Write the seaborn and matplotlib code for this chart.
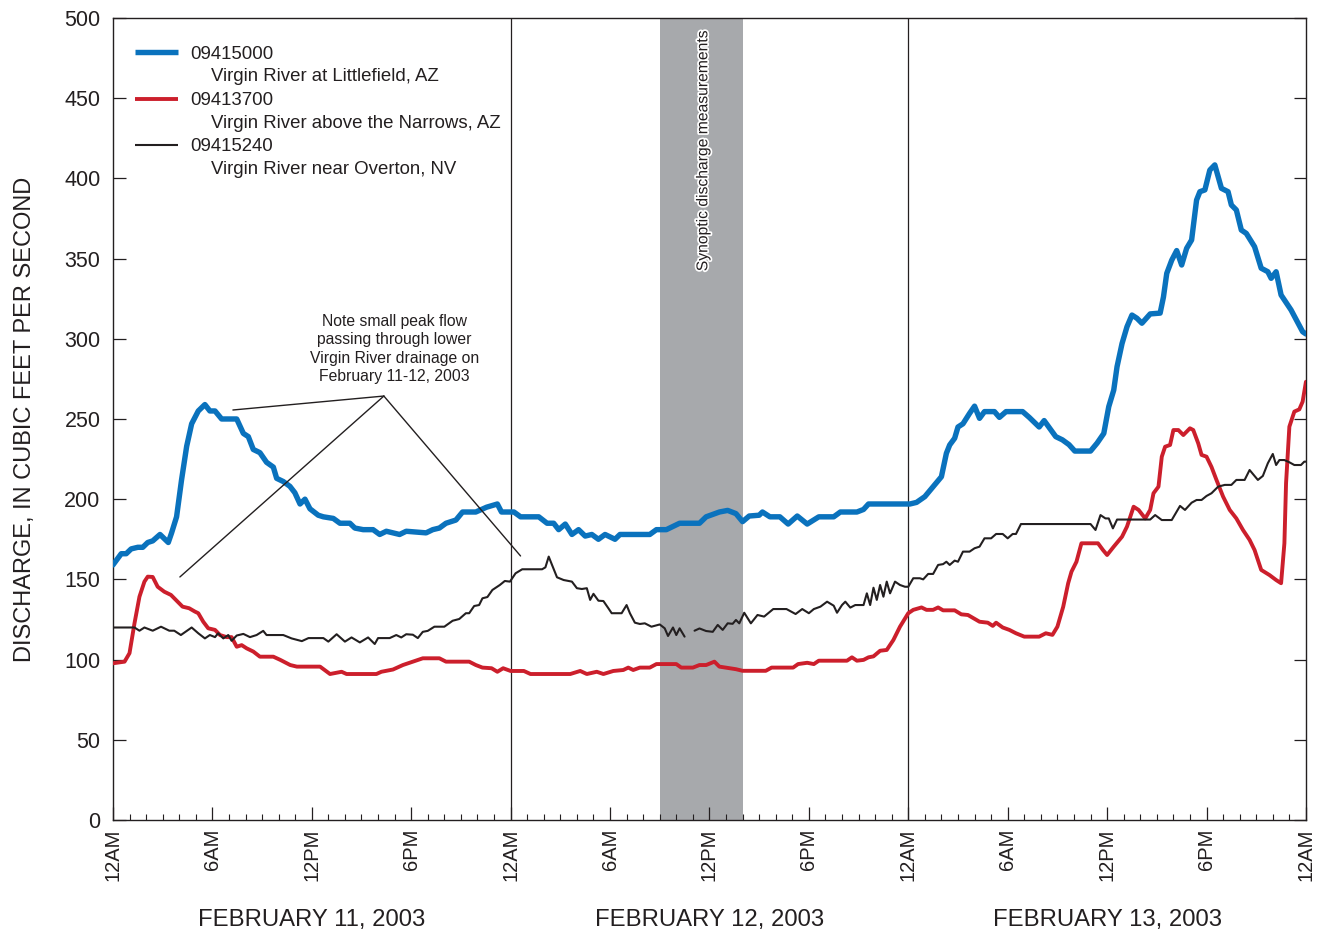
import numpy as np
import pandas as pd
import matplotlib
matplotlib.use("Agg")
import matplotlib.pyplot as plt
import matplotlib.patheffects as pe
from matplotlib.ticker import MultipleLocator
import seaborn as sns

# ---- Discharge records (hours from 12AM Feb 11, 2003; cubic feet per second) ----
littlefield_hours = [0, 0.5, 0.8, 1.1, 1.5, 1.8, 2.1, 2.4, 2.84, 3.04, 3.34, 3.54, 3.84, 4.14, 4.45, 4.75,
                     5.15, 5.55, 5.85, 6.16, 6.56, 7.47, 7.87, 8.17, 8.47, 8.87, 9.27, 9.68, 9.88, 10.28,
                     10.68, 10.98, 11.29, 11.59, 11.89, 12.39, 12.7, 13.3, 13.7, 14.3, 14.6, 15.1, 15.7,
                     16.1, 16.5, 17.3, 17.7, 18.9, 19.3, 19.7, 20.1, 20.7, 21.1, 21.9, 22.55, 23.2, 23.45,
                     24.2, 24.6, 25.7, 26.2, 26.6, 26.9, 27.3, 27.7, 28.1, 28.5, 28.9, 29.3, 29.7, 30.3,
                     30.6, 32.4, 32.8, 33.4, 34.2, 35.4, 35.8, 36.6, 37.1, 37.6, 38.0, 38.4, 39.0, 39.2,
                     39.65, 40.25, 40.75, 41.3, 41.9, 42.6, 43.5, 43.9, 44.9, 45.3, 45.6, 47.9, 48.1, 48.5,
                     49.0, 49.5, 50.0, 50.3, 50.5, 50.8, 51.0, 51.3, 51.7, 52.0, 52.3, 52.6, 53.2, 53.5,
                     53.9, 54.9, 55.3, 55.9, 56.2, 56.9, 57.3, 57.7, 58.05, 59.0, 59.4, 59.8, 60.1, 60.4,
                     60.6, 60.9, 61.2, 61.5, 61.8, 62.1, 62.6, 63.2, 63.4, 63.6, 63.9, 64.2, 64.5, 64.8,
                     65.1, 65.4, 65.6, 65.9, 66.2, 66.5, 66.7, 66.9, 67.3, 67.5, 67.8, 68.1, 68.4, 68.9,
                     69.3, 69.7, 69.9, 70.2, 70.5, 71.1, 71.8, 72.0]
littlefield_cfs = [159, 166, 166, 169, 170, 170, 173, 174, 178, 176, 173, 179, 189, 212, 233, 247,
                   255, 259, 255, 255, 250, 250, 241, 239, 231, 229, 223, 220, 213, 211,
                   208, 204, 197, 200, 194, 190, 189, 188, 185, 185, 182, 181, 181,
                   178, 180, 178, 180, 179, 181, 182, 185, 187, 192, 192, 195, 197, 192,
                   192, 189, 189, 185, 185, 181, 184.5, 178, 181, 177, 178, 175, 178, 175,
                   178, 178, 181, 181, 185, 185, 189, 192, 193, 191, 186, 189.5, 190, 192,
                   189, 189, 184.5, 189.5, 184.5, 189, 189, 192, 192, 193.6, 197, 197, 197, 198,
                   201.6, 207.8, 214, 228.6, 233.8, 238, 245, 247, 253.5, 258, 250.4, 254.6, 254.6, 251,
                   254.6, 254.6, 251, 245, 249, 239, 237, 234, 230, 230, 235, 241, 257.7, 268,
                   282.6, 297, 307.5, 314.8, 312.8, 309.7, 315.5, 316, 326, 340.8, 349, 355, 346, 356.4,
                   361.6, 386.5, 391.7, 392.8, 405.2, 408.4, 401, 393.8, 391.7, 383.4, 380.3, 367.8, 365.7, 357.4,
                   344, 341.8, 337.7, 341.8, 327.3, 318, 304.4, 303]

narrows_hours = [0, 0.7, 1.0, 1.3, 1.6, 1.9, 2.1, 2.4, 2.7, 3.1, 3.5, 3.8, 4.2, 4.6, 4.95, 5.15, 5.45,
                 5.75, 6.16, 6.46, 6.86, 7.16, 7.47, 7.77, 8.07, 8.47, 8.87, 9.68, 10.1, 10.7, 11.1,
                 12.5, 13.1, 13.8, 14.1, 15.9, 16.2, 16.9, 17.5, 18.1, 18.7, 19.7, 20.1, 21.5, 21.9,
                 22.3, 22.85, 23.2, 23.55, 24.0, 24.8, 25.2, 27.6, 28.2, 28.6, 29.2, 29.6, 30.2, 30.8,
                 31.1, 31.4, 31.8, 32.4, 32.8, 34.0, 34.3, 35.0, 35.4, 35.8, 36.3, 36.6, 37.2, 37.6,
                 38.0, 39.4, 39.75, 41.05, 41.35, 41.9, 42.3, 42.6, 44.3, 44.6, 44.9, 45.3, 45.6, 45.9,
                 46.3, 46.7, 47.1, 47.5, 48.0, 48.3, 48.8, 49.1, 49.5, 49.8, 50.1, 50.8, 51.2, 51.6,
                 52.3, 52.8, 53.1, 53.3, 53.7, 54.1, 54.5, 55.0, 55.9, 56.3, 56.7, 57.0, 57.35, 57.65,
                 57.85, 58.15, 58.45, 59.45, 59.75, 60.0, 60.4, 60.9, 61.2, 61.6, 61.9, 62.3, 62.6,
                 62.8, 63.1, 63.3, 63.5, 63.8, 64.0, 64.3, 64.6, 65.0, 65.2, 65.5, 65.7, 66.0, 66.3,
                 66.6, 67.0, 67.4, 67.8, 68.2, 68.6, 68.9, 69.3, 69.8, 70.2, 70.5, 70.7, 70.8, 71.0,
                 71.3, 71.6, 71.8, 72.0]
narrows_cfs = [97.7, 98.7, 104, 122.6, 139.2, 148.6, 151.7, 151.5, 145.4, 142.3, 140.3, 137.2, 133, 132,
               129.9, 128.9, 123.6, 119.5, 118.5, 115.3, 114, 114, 108, 109, 107, 105, 101.8, 101.8, 99.8,
               96.6, 95.6, 95.6, 91, 92.4, 91, 91, 92.4, 93.8, 96.6, 98.7, 100.8, 100.8, 98.7, 98.7, 96.6,
               95, 94.6, 92.4, 94.6, 92.9, 92.9, 91, 91, 92.9, 91, 92.4, 91, 92.9, 93.5,
               95, 93.5, 95, 95, 97.2, 97.2, 95, 95, 96.6, 96.6, 98.7, 95.6, 94.6, 94,
               93, 93, 95, 95, 97.2, 98, 97.2, 99.3, 99.3, 101.4, 99.3, 99.8, 101.4, 102,
               105.5, 106, 112.2, 120.5, 128.9, 131, 132.5, 131, 131, 132.5, 130.7, 130.7, 128.2, 127.8,
               123.6, 123, 121, 123, 120, 118.5, 116.4, 114.3, 114.3, 116.4, 115.4, 120.5, 132.9, 147.6,
               154.8, 161, 172.5, 172.5, 168.3, 165.2, 170.4, 176.6, 182.9, 195.3, 193.3, 188, 193.3,
               203.7, 207.8, 226.5, 232.7, 233.8, 243.1, 243.1, 240, 244.2, 243.1, 234.8, 227.6, 226.5, 220.1,
               212, 201.6, 193.3, 188, 180.8, 174.6, 168.3, 155.9, 152.7, 149.6, 147.6, 172.5, 210, 245.2,
               254.6, 256, 260.8, 273.2]

# Overton gage record has a short gap around noon on Feb 12
overton_hours_a = [0, 1.3, 1.6, 1.9, 2.4, 2.9, 3.4, 3.7, 4.1, 4.75, 5.15, 5.55, 5.85, 6.16, 6.35, 6.66,
                   6.96, 7.16, 7.47, 7.87, 8.27, 8.67, 9.07, 9.27, 10.28, 10.78, 11.4, 11.8, 12.7, 13.0,
                   13.5, 14.0, 14.4, 14.9, 15.4, 15.8, 16.0, 16.7, 17.1, 17.4, 17.7, 18.1, 18.4, 18.7,
                   19.0, 19.4, 20.0, 20.5, 20.9, 21.3, 21.5, 21.8, 22.1, 22.3, 22.6, 22.9, 23.35, 23.65,
                   23.96, 24.3, 24.7, 25.9, 26.1, 26.3, 26.5, 26.8, 27.2, 27.7, 28.0, 28.3, 28.6, 28.8,
                   29.0, 29.3, 29.6, 29.9, 30.1, 30.7, 31.0, 31.2, 31.5, 31.8, 32.1, 32.5, 33.0, 33.3,
                   33.5, 33.8, 34.0, 34.2, 34.5]
overton_cfs_a = [120, 120, 118, 120, 118, 120.5, 118, 118, 115.3, 120, 116.4, 113.2, 115.3, 114, 116.4, 113.2,
                 115.3, 111.7, 115, 116, 114, 115.3, 117.9, 115.3, 115.3, 113.2, 111.5, 113.4, 113.4, 111.2,
                 115.8, 111.2, 113.8, 110.7, 113.8, 109.7, 113.4, 113.4, 115.3, 113.8, 115.8, 115.5, 113.4, 117.3,
                 117.9, 120.5, 120.5, 124.2, 125.3, 128.9, 128.9, 133.4, 134, 138.2, 139, 143.4, 146.5, 149,
                 148.6, 153.8, 156.3, 156.3, 157.5, 164.2, 159, 151.3, 149.6, 148.6, 144.5, 144, 144.5, 137.2,
                 141, 136.7, 136.5, 132, 128.9, 128.9, 134, 128.9, 123, 122.2, 122.6, 120.5, 121.9, 119.5,
                 114.7, 120, 115.3, 119.5, 114.3]
overton_hours_b = [35.1, 35.4, 35.8, 36.2, 36.5, 36.8, 37.1, 37.4, 37.6, 37.8, 38.1, 38.5, 38.9, 39.3,
                   39.85, 40.65, 41.2, 41.6, 42.0, 42.3, 42.7, 43.1, 43.5, 43.7, 44.0, 44.2, 44.5, 44.8,
                   45.3, 45.5, 45.7, 45.9, 46.1, 46.3, 46.5, 46.7, 46.9, 47.2, 47.5, 47.8, 48.0, 48.3,
                   48.7, 48.9, 49.2, 49.5, 49.8, 50.1, 50.3, 50.5, 50.8, 51.0, 51.3, 51.7, 52.0, 52.3,
                   52.6, 53.0, 53.3, 53.7, 54.0, 54.3, 54.5, 54.8, 59.0, 59.3, 59.6, 59.9, 60.1, 60.35,
                   60.6, 62.6, 62.9, 63.3, 63.9, 64.4, 64.7, 65.1, 65.4, 65.7, 66.0, 66.3, 66.7, 67.1,
                   67.5, 67.8, 68.3, 68.6, 68.8, 69.1, 69.4, 69.7, 70.0, 70.2, 70.4, 70.7, 71.0, 71.3,
                   71.7, 71.9, 72.0]
overton_cfs_b = [118, 119.4, 117.8, 117.3, 121.6, 118.5, 122.6, 122.3, 124.7, 122.6, 129.2, 122.6, 127.8, 126.8,
                 131.5, 131.5, 128.4, 131.5, 128.9, 131.5, 133, 136.1, 133.6, 129.2, 134, 136.1, 132.4, 134,
                 134, 141.3, 134, 144.8, 137.2, 146.5, 139.2, 148.6, 141.3, 148.6, 146.5, 145.4, 145.4, 150.7,
                 150.7, 150, 153.4, 153.4, 159, 159.5, 161, 159, 161.7, 161, 167.3, 167.3, 169.4, 170.4,
                 175.6, 175.6, 178.3, 178.3, 175.6, 178.3, 178.3, 184.5, 184.5, 180.8, 190.1, 188, 188, 181.8,
                 187.3, 187.3, 190.1, 187, 187, 195.8, 193.3, 197.8, 199.5, 199.5, 202, 203.7, 207.8, 208.9,
                 208.9, 212, 212, 218.2, 215.7, 212, 214.5, 222.4, 228.2, 221.3, 224.4, 224.4, 223, 221.3,
                 221.3, 223.4, 223.4]

tick_hours = [0, 6, 12, 18, 24, 30, 36, 42, 48, 54, 60, 66, 72]
tick_labels = ["12AM", "6AM", "12PM", "6PM"] * 3 + ["12AM"]
day_labels = ["FEBRUARY 11, 2003", "FEBRUARY 12, 2003", "FEBRUARY 13, 2003"]
day_centers = [12, 36, 60]
synoptic_window = (33, 38)
day_breaks = [24, 48]

BLUE = "#0a72bd"
RED = "#cc1f2c"
BLACK = "#231f20"
GREY = "#a7a9ac"

sns.set_theme(style="ticks")
plt.rcParams["font.family"] = ["Liberation Sans", "DejaVu Sans"]
plt.rcParams["text.color"] = BLACK
plt.rcParams["axes.labelcolor"] = BLACK
plt.rcParams["xtick.color"] = BLACK
plt.rcParams["ytick.color"] = BLACK

fig = plt.figure(figsize=(13.21, 9.32), dpi=100)
ax = fig.add_axes([0.0855, 0.1202, 0.9031, 0.8605])

# synoptic measurement window and day separators
ax.axvspan(*synoptic_window, color=GREY, lw=0, zorder=0)
for d in day_breaks:
    ax.axvline(d, color=BLACK, lw=0.9, zorder=1)

lf = pd.DataFrame({"hour": littlefield_hours, "cfs": littlefield_cfs})
nw = pd.DataFrame({"hour": narrows_hours, "cfs": narrows_cfs})
ov_a = pd.DataFrame({"hour": overton_hours_a, "cfs": overton_cfs_a})
ov_b = pd.DataFrame({"hour": overton_hours_b, "cfs": overton_cfs_b})

sns.lineplot(data=lf, x="hour", y="cfs", color=BLUE, lw=3.9, estimator=None, sort=False, ax=ax, zorder=3)
sns.lineplot(data=nw, x="hour", y="cfs", color=RED, lw=2.8, estimator=None, sort=False, ax=ax, zorder=3)
for seg in (ov_a, ov_b):
    sns.lineplot(data=seg, x="hour", y="cfs", color=BLACK, lw=1.5, estimator=None, sort=False, ax=ax, zorder=3)

ax.set_xlim(0, 72)
ax.set_ylim(0, 500)
ax.yaxis.set_major_locator(MultipleLocator(50))
ax.set_xticks(tick_hours)
ax.set_xticklabels(tick_labels, rotation=90, fontsize=14.5, va="top")
ax.xaxis.set_minor_locator(MultipleLocator(1))
ax.tick_params(axis="y", which="major", direction="in", length=9, width=0.9,
               left=True, right=True, labelsize=15.5, pad=9)
ax.tick_params(axis="x", which="major", direction="in", length=9.5, width=0.9, pad=6)
ax.tick_params(axis="x", which="minor", direction="in", length=4.5, width=0.8)
for s in ax.spines.values():
    s.set_linewidth(1.0)
    s.set_color(BLACK)

ax.set_xlabel("")
ax.set_ylabel("DISCHARGE, IN CUBIC FEET PER SECOND", fontsize=17, labelpad=20)

# day labels under the time axis
for xc, lab in zip(day_centers, day_labels):
    ax.text(xc, -0.125, lab, transform=ax.get_xaxis_transform(), ha="center", va="center", fontsize=17.2)

# legend drawn as line samples with two-line captions
legend_rows = [
    (BLUE, 3.9, "09415000", "Virgin River at Littlefield, AZ"),
    (RED, 2.8, "09413700", "Virgin River above the Narrows, AZ"),
    (BLACK, 1.5, "09415240", "Virgin River near Overton, NV"),
]
row_y = [0.957, 0.899, 0.842]
for (c, w, code, name), yy in zip(legend_rows, row_y):
    ax.plot([0.0184, 0.0545], [yy, yy], color=c, lw=w, transform=ax.transAxes, solid_capstyle="butt")
    ax.text(0.0645, yy - 0.002, code, transform=ax.transAxes, va="center", ha="left", fontsize=13.4)
    ax.text(0.0822, yy - 0.0305, name, transform=ax.transAxes, va="center", ha="left", fontsize=13.4)

# label inside the synoptic window
ax.text(35.6, 493, "Synoptic discharge measurements", rotation=90, ha="center", va="top",
        fontsize=11.3, color=BLACK,
        path_effects=[pe.withStroke(linewidth=2.5, foreground="white")], zorder=4)

# callout for the small peak moving down the drainage
apex = (16.35, 264.3)
ax.text(17.0, 293.6, "Note small peak flow\npassing through lower\nVirgin River drainage on\nFebruary 11-12, 2003",
        ha="center", va="center", multialignment="center", fontsize=11.3, linespacing=1.3)
for target in [(7.24, 255.6), (4.04, 151.5), (24.6, 164.6)]:
    ax.annotate("", xy=target, xytext=apex,
                arrowprops=dict(arrowstyle="-", lw=1.0, color=BLACK, shrinkA=0, shrinkB=0))

fig.savefig("out.png", dpi=100)
